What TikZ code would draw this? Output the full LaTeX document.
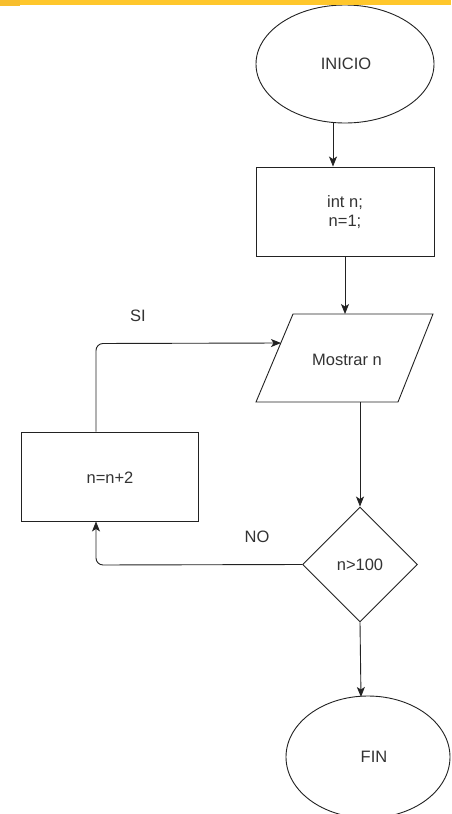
\documentclass[tikz,border=0pt]{standalone}
\usepackage{fontspec}
\setmainfont{Liberation Sans}
\usetikzlibrary{shapes.geometric,arrows.meta}
\definecolor{linec}{HTML}{222222}
\definecolor{textc}{HTML}{333333}
\definecolor{barc}{HTML}{FFC72C}
\definecolor{barl}{HTML}{F7BE2E}
\begin{document}
\begin{tikzpicture}[x=1pt,y=-1pt,
  shapeline/.style={draw=linec, line width=0.9pt},
  lbl/.style={text=textc, font=\fontsize{16.5}{19.5}\selectfont, align=center, inner sep=0pt},
  conn/.style={draw=linec, line width=0.9pt, -{Stealth[length=10pt,width=8pt,inset=2.5pt]}},
  term/.style={shapeline, ellipse, inner sep=0pt},
  procbox/.style={shapeline, rectangle, inner sep=0pt},
  decbox/.style={shapeline, diamond, inner sep=0pt, minimum width=115pt, minimum height=115pt, aspect=1}]
\useasboundingbox (0,0) rectangle (451,814);
\fill[white] (0,0) rectangle (451,814);
% nodes
\node[term, minimum width=178pt, minimum height=118pt] (inicio) at (345,64) {};
\node[lbl] at (346,64) {INICIO};
\node[procbox, minimum width=178pt, minimum height=89pt] (init) at (345,211.5) {};
\node[lbl] at (345,212) {int n;\\n=1;};
% parallelogram
\coordinate (pbl) at (256,402);
\coordinate (pbr) at (398,402);
\coordinate (ptr) at (433,314);
\coordinate (ptl) at (293,314);
\draw[shapeline] (pbl) -- (pbr) -- (ptr) -- (ptl) -- cycle;
\node[lbl] (mostrar) at (347,360) {Mostrar n};
\coordinate (ptop) at (345,314);
\coordinate (pleft) at (281,343);
\coordinate (pbot) at (360,402);
\node[decbox] (dec) at (360,564.5) {};
\node[lbl] at (dec.center) {n>100};
\node[procbox, minimum width=177pt, minimum height=89pt] (inc) at (109.5,476.5) {};
\node[lbl] at (110,478) {n=n+2};
\node[term, minimum width=164pt, minimum height=122pt] (fin) at (368,757) {};
\node[lbl] at (374,757) {FIN};
\coordinate (fintop) at (361,697);
% connectors
\draw[conn] (inicio.south -| 333,0) -- (init.north -| 333,0);
\draw[conn] (init.south) -- (ptop);
\draw[conn] (pbot) -- (dec.north);
\draw[conn] (dec.south) -- (fintop);
\draw[conn, rounded corners=7pt] (inc.north -| 96,0) -- (96,343.5) -- (pleft);
\draw[conn, rounded corners=7pt] (dec.west) -- (96,565) -- (inc.south -| 96,0);
% labels
\node[lbl] (si) at (138,316) {SI};
\node[lbl] (no) at (257,537) {NO};
% top bar
\fill[barc] (0,0) rectangle (451,5);
\fill[barl] (0,0) rectangle (20,6);
\end{tikzpicture}
\end{document}
